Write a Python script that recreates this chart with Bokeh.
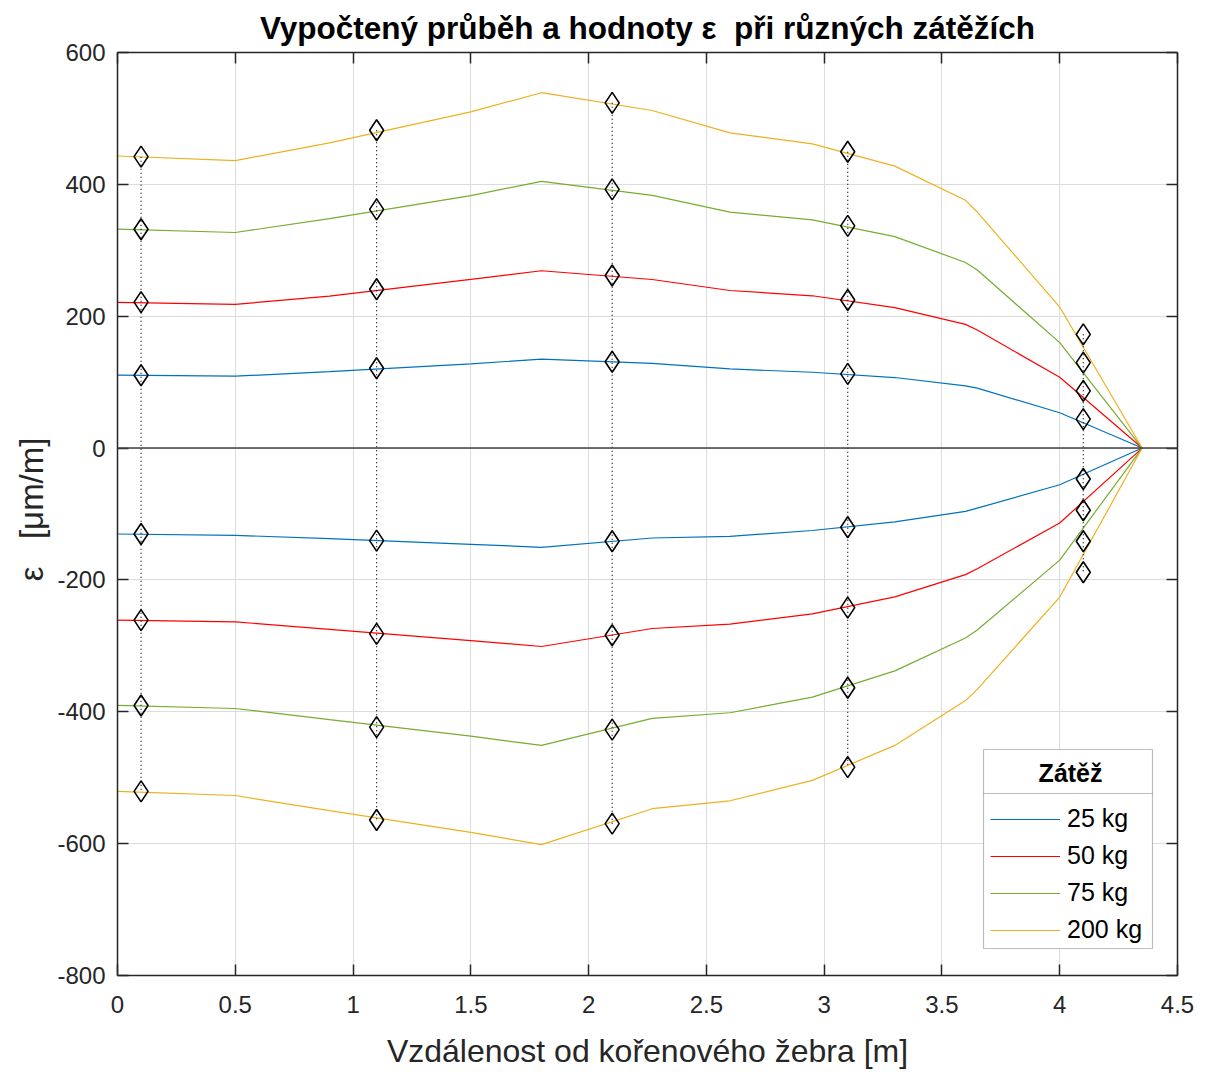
from bokeh.plotting import figure
from bokeh.models import (FixedTicker, LinearAxis, Span, Legend, LegendItem,
                          BoxAnnotation, Range1d)
from bokeh.embed import file_html
from bokeh.resources import INLINE

# ---------------- data ----------------
loads = ["25 kg", "50 kg", "75 kg", "200 kg"]
colors = ["#0072BD", "#FF0000", "#77AC30", "#EDB120"]

x_line = [0, 0.5, 0.9, 1.5, 1.8, 2.27, 2.6, 2.95, 3.3, 3.6, 3.65, 4.0, 4.35]
top_25 = [110.5, 109, 116, 127.6, 135, 128.6, 120, 115, 107, 94.3, 91, 53.5, 0]
top_50 = [221, 218, 230.5, 256, 269, 255.7, 239, 231, 213, 187.6, 179, 107.4, 0]
top_75 = [332, 327, 348, 383, 404.5, 383.4, 358, 346, 320.8, 281.5, 270, 160, 0]
top_200 = [443, 436, 463, 510, 539, 512, 478, 461.5, 427.7, 375.8, 358, 213.9, 0]
bot_25 = [-130.3, -132.3, -137.5, -146, -150.5, -136.4, -133.8, -125, -112, -96, -91, -55.6, 0]
bot_50 = [-261, -263.6, -275, -292, -301, -273.7, -267, -251.5, -225.8, -192, -183, -113.6, 0]
bot_75 = [-390.4, -395, -412, -437, -451, -410, -401.5, -377.8, -338, -288, -276, -170, 0]
bot_200 = [-520.7, -527, -550, -583, -601.5, -547, -535, -504, -451, -383, -366, -226, 0]

x_meas = [0.1, 1.1, 2.1, 3.1, 4.1]
mtop_25 = [110.5, 121, 131, 112.5, 43.9]
mtop_50 = [221.4, 241, 261.8, 224.5, 86.8]
mtop_75 = [332, 362, 392.4, 337, 129.6]
mtop_200 = [442, 482, 523.6, 449.4, 172.5]
mbot_25 = [-130.3, -140.4, -141.4, -120, -47]
mbot_50 = [-261, -281.8, -284, -242, -94.4]
mbot_75 = [-390.4, -423.2, -427, -363.6, -141.4]
mbot_200 = [-520.7, -564.1, -569.7, -484, -188.4]

x_ticks = [0, 0.5, 1, 1.5, 2, 2.5, 3, 3.5, 4, 4.5]
x_tick_labels = ["0", "0.5", "1", "1.5", "2", "2.5", "3", "3.5", "4", "4.5"]
y_ticks = [-800, -600, -400, -200, 0, 200, 400, 600]
y_tick_labels = ["-800", "-600", "-400", "-200", "0", "200", "400", "600"]

tops = [top_25, top_50, top_75, top_200]
bots = [bot_25, bot_50, bot_75, bot_200]
mtops = [mtop_25, mtop_50, mtop_75, mtop_200]
mbots = [mbot_25, mbot_50, mbot_75, mbot_200]

FONT = "Liberation Sans"
AX = "#262626"

p = figure(width=1209, height=1072, output_backend="svg", toolbar_location=None,
           x_range=Range1d(0, 4.5), y_range=Range1d(-800, 600),
           min_border_left=117, min_border_right=32, min_border_top=52,
           min_border_bottom=97)
p.outline_line_color = None
p.background_fill_color = "white"
p.border_fill_color = "white"

p.title.text = "Vypočtený průběh a hodnoty ε \u00a0při různých zátěžích"
p.title.align = "center"
p.title.text_font = FONT
p.title.text_font_size = "31.5px"
p.title.text_font_style = "bold"
p.title.text_color = "black"
p.title.standoff = 14

def style_axis(ax, labels=True):
    ax.axis_line_color = AX
    ax.axis_line_width = 1.5
    ax.major_tick_line_color = AX
    ax.major_tick_line_width = 1.5
    ax.major_tick_in = 11
    ax.major_tick_out = 0
    ax.minor_tick_line_color = None
    ax.major_label_text_font = FONT
    if labels:
        ax.major_label_text_font_size = "24px"
        ax.major_label_text_color = AX
    else:
        ax.major_label_text_font_size = "1px"
        ax.major_label_text_color = None
        ax.major_label_standoff = 0

xa = p.xaxis[0]
xa.ticker = FixedTicker(ticks=x_ticks)
xa.major_label_overrides = dict(zip(x_ticks, x_tick_labels))
style_axis(xa)
xa.major_label_standoff = 20
xa.axis_label = "Vzdálenost od kořenového žebra [m]"
xa.axis_label_text_font = FONT
xa.axis_label_text_font_size = "32px"
xa.axis_label_text_font_style = "normal"
xa.axis_label_text_color = AX
xa.axis_label_standoff = 17

ya = p.yaxis[0]
ya.ticker = FixedTicker(ticks=y_ticks)
ya.major_label_overrides = dict(zip(y_ticks, y_tick_labels))
style_axis(ya)
ya.major_label_standoff = 12
ya.axis_label = "\u00a0ε\u00a0\u00a0\u00a0[μm/m]"
ya.axis_label_text_font = FONT
ya.axis_label_text_font_size = "33px"
ya.axis_label_text_font_style = "normal"
ya.axis_label_text_color = AX
ya.axis_label_standoff = 4

ta = LinearAxis(ticker=FixedTicker(ticks=x_ticks))
style_axis(ta, labels=False)
p.add_layout(ta, "above")
ra = LinearAxis(ticker=FixedTicker(ticks=y_ticks))
style_axis(ra, labels=False)
p.add_layout(ra, "right")

p.xgrid.ticker = FixedTicker(ticks=x_ticks)
p.ygrid.ticker = FixedTicker(ticks=y_ticks)
p.grid.grid_line_color = "#dcdcdc"
p.grid.grid_line_width = 1

zero = Span(location=0, dimension="width", line_color="#404040", line_width=1.5)
p.add_layout(zero)

renderers = []
for lab, col, t, b in zip(loads, colors, tops, bots):
    r = p.line(x_line, t, line_color=col, line_width=1.2)
    p.line(x_line, b, line_color=col, line_width=1.2)
    renderers.append(r)

p.segment(x0=x_meas, y0=mtop_200, x1=x_meas, y1=mbot_200,
          line_color="black", line_width=1.2, line_dash="1 3")

for mt, mb in zip(mtops, mbots):
    p.scatter(x_meas, mt, marker="diamond", size=21, fill_alpha=0,
              line_color="black", line_width=1.6)
    p.scatter(x_meas, mb, marker="diamond", size=21, fill_alpha=0,
              line_color="black", line_width=1.6)

# legend box (white background with border) and header separator
legend_bg = BoxAnnotation(left=866, right=1035, top=226, bottom=27,
                          left_units="screen", right_units="screen",
                          top_units="screen", bottom_units="screen",
                          fill_color="white", fill_alpha=1,
                          line_color=AX, line_width=1.2, level="annotation")
p.add_layout(legend_bg)
sep = BoxAnnotation(left=866, right=1035, top=182, bottom=182,
                    left_units="screen", right_units="screen",
                    top_units="screen", bottom_units="screen",
                    fill_alpha=0, line_color=AX, line_width=1.2, level="overlay")
p.add_layout(sep)

legend = Legend(items=[LegendItem(label=l, renderers=[r]) for l, r in zip(loads, renderers)],
                location=(873, 31), title="\u00a0" * 7 + "Zátěž",
                title_text_font=FONT, title_text_font_size="25px",
                title_text_font_style="bold", title_text_color="black",
                title_standoff=16,
                label_text_font=FONT, label_text_font_size="25px", label_text_color="black",
                glyph_width=70, glyph_height=26, label_height=26, spacing=8,
                padding=7, label_standoff=7, margin=0,
                border_line_color=None,
                background_fill_alpha=0)
p.add_layout(legend)

open("out.html", "w").write(file_html(p, INLINE))
